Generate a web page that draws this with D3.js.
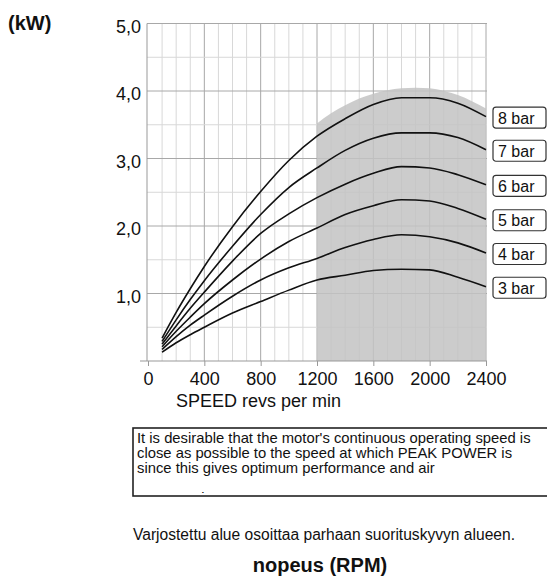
<!DOCTYPE html>
<html>
<head>
<meta charset="utf-8">
<script src="https://cdn.jsdelivr.net/npm/d3@7"></script>
<style>
  body { margin: 0; background: #fff; }
  text { font-family: "Liberation Sans", Arial, sans-serif; fill: #111; }
</style>
</head>
<body>
<script>
const width  = 547;
const height = 578;

// data
const rpm = [100, 200, 300, 400, 600, 800, 1000, 1200, 1400, 1600, 1800, 2000, 2200, 2400];
const bar8 = [0.34, 0.72, 1.07, 1.40, 1.99, 2.51, 2.97, 3.33, 3.59, 3.80, 3.90, 3.90, 3.82, 3.62];
const bar7 = [0.29, 0.61, 0.91, 1.19, 1.70, 2.17, 2.57, 2.86, 3.12, 3.30, 3.38, 3.38, 3.31, 3.13];
const bar6 = [0.25, 0.52, 0.78, 1.02, 1.48, 1.89, 2.18, 2.42, 2.62, 2.78, 2.88, 2.86, 2.76, 2.61];
const bar5 = [0.21, 0.44, 0.65, 0.85, 1.20, 1.51, 1.77, 1.97, 2.17, 2.30, 2.39, 2.37, 2.26, 2.10];
const bar4 = [0.17, 0.36, 0.53, 0.68, 0.96, 1.20, 1.38, 1.52, 1.68, 1.80, 1.87, 1.84, 1.75, 1.60];
const bar3 = [0.13, 0.27, 0.39, 0.50, 0.71, 0.88, 1.05, 1.20, 1.27, 1.34, 1.36, 1.35, 1.24, 1.10];
const seriesNames = ['8 bar', '7 bar', '6 bar', '5 bar', '4 bar', '3 bar'];
const seriesValues = [bar8, bar7, bar6, bar5, bar4, bar3];

// shaded "best performance" band
const shadeRpm = [1200, 1300, 1400, 1500, 1600, 1700, 1800, 1900, 2000, 2100, 2200, 2300, 2400];
const shadeTop = [3.52, 3.67, 3.79, 3.89, 3.96, 4.01, 4.04, 4.05, 4.04, 4.00, 3.94, 3.85, 3.74];

const xTicks = [0, 400, 800, 1200, 1600, 2000, 2400];
const yTicks = [1, 2, 3, 4, 5];

const noteLines = [
  "It is desirable that the motor's continuous operating speed is",
  'close as possible to the speed at which PEAK POWER is',
  'since this gives optimum performance and air',
  'consumption.'
];

const x = d3.scaleLinear().domain([0, 2400]).range([148, 486]);
const y = d3.scaleLinear().domain([0, 5]).range([361, 23.5]);

const svg = d3.select('body').append('svg')
    .attr('width', width)
    .attr('height', height);

// grid
const grid = svg.append('g');
grid.selectAll('.vgrid')
  .data(d3.range(100, 2401, 100))
  .join('line')
    .attr('x1', d => x(d)).attr('x2', d => x(d))
    .attr('y1', y(5)).attr('y2', y(0))
    .attr('stroke', d => d % 400 === 0 ? '#a8a8a8' : '#d8d8d8')
    .attr('stroke-width', 1);
grid.selectAll('.hgrid')
  .data(d3.range(0.5, 5.01, 0.5))
  .join('line')
    .attr('x1', x(0) - 1).attr('x2', x(2400) + 1)
    .attr('y1', d => y(d)).attr('y2', d => y(d))
    .attr('stroke', d => d % 1 === 0 ? '#a8a8a8' : '#d8d8d8')
    .attr('stroke-width', 1);

// shaded region
const shadeArea = d3.area()
    .x((d, i) => x(shadeRpm[i]))
    .y0(y(0))
    .y1(d => y(d))
    .curve(d3.curveMonotoneX);
svg.append('path')
    .datum(shadeTop)
    .attr('d', shadeArea)
    .attr('fill', '#c3c3c3')
    .attr('fill-opacity', 0.85);

// axes
svg.append('line')
    .attr('x1', x(0) - 1).attr('x2', x(0) - 1)
    .attr('y1', y(5)).attr('y2', y(0))
    .attr('stroke', '#999');

const xAxis = svg.append('g')
    .attr('transform', `translate(0,${y(0)})`)
    .call(d3.axisBottom(x).tickValues(xTicks).tickSize(5).tickPadding(6).tickFormat(d3.format('d')));
xAxis.select('.domain').attr('stroke', '#999').attr('d', `M${x(0) - 8},0H${x(2400) + 1}`);
xAxis.selectAll('.tick line').attr('stroke', '#999');
xAxis.selectAll('.tick text')
    .attr('fill', '#111')
    .style('font-size', '18px')
    .style('font-family', '"Liberation Sans", Arial, sans-serif');

const fmt = d => d3.format('.1f')(d).replace('.', ',');
svg.append('g')
  .selectAll('text')
  .data(yTicks)
  .join('text')
    .attr('x', 141)
    .attr('y', d => y(d) + 9)
    .attr('text-anchor', 'end')
    .style('font-size', '18px')
    .text(fmt);

// power curves
const line = d3.line()
    .x((d, i) => x(rpm[i]))
    .y(d => y(d))
    .curve(d3.curveMonotoneX);

svg.append('g')
  .selectAll('path')
  .data(seriesValues)
  .join('path')
    .attr('d', line)
    .attr('fill', 'none')
    .attr('stroke', '#111')
    .attr('stroke-width', 1.6);

// end labels
const labels = svg.append('g')
  .selectAll('g')
  .data(seriesNames)
  .join('g')
    .attr('transform', (d, i) => `translate(493,${y(seriesValues[i][seriesValues[i].length - 1]) + 1})`);
labels.append('rect')
    .attr('x', 0).attr('y', -10.5)
    .attr('width', 53).attr('height', 21)
    .attr('rx', 3)
    .attr('fill', '#fff')
    .attr('stroke', '#333')
    .attr('stroke-width', 1.2);
labels.append('text')
    .attr('x', 5).attr('y', 6)
    .style('font-size', '16px')
    .text(d => d);

svg.append('text')
    .attr('x', 8).attr('y', 30)
    .style('font-size', '20px')
    .style('font-weight', 'bold')
    .text('(kW)');

svg.append('text')
    .attr('x', 176).attr('y', 407)
    .style('font-size', '18px')
    .text('SPEED revs per min');

// note box, clipped like the original
svg.append('clipPath').attr('id', 'noteclip')
  .append('rect')
    .attr('x', 133).attr('y', 429).attr('width', 420).attr('height', 64);
svg.append('rect')
    .attr('x', 133).attr('y', 428)
    .attr('width', 420).attr('height', 68)
    .attr('fill', '#fff')
    .attr('stroke', '#222')
    .attr('stroke-width', 1.6);
svg.append('g')
    .attr('clip-path', 'url(#noteclip)')
  .selectAll('text')
  .data(noteLines)
  .join('text')
    .attr('x', 137)
    .attr('y', (d, i) => i < 3 ? 443 + i * 15 : 503)
    .style('font-size', '14.8px')
    .text(d => d);

svg.append('text')
    .attr('x', 324).attr('y', 540)
    .attr('text-anchor', 'middle')
    .style('font-size', '15.6px')
    .text('Varjostettu alue osoittaa parhaan suorituskyvyn alueen.');

svg.append('text')
    .attr('x', 320).attr('y', 572)
    .attr('text-anchor', 'middle')
    .style('font-size', '20px')
    .style('font-weight', 'bold')
    .text('nopeus (RPM)');
</script>
</body>
</html>
